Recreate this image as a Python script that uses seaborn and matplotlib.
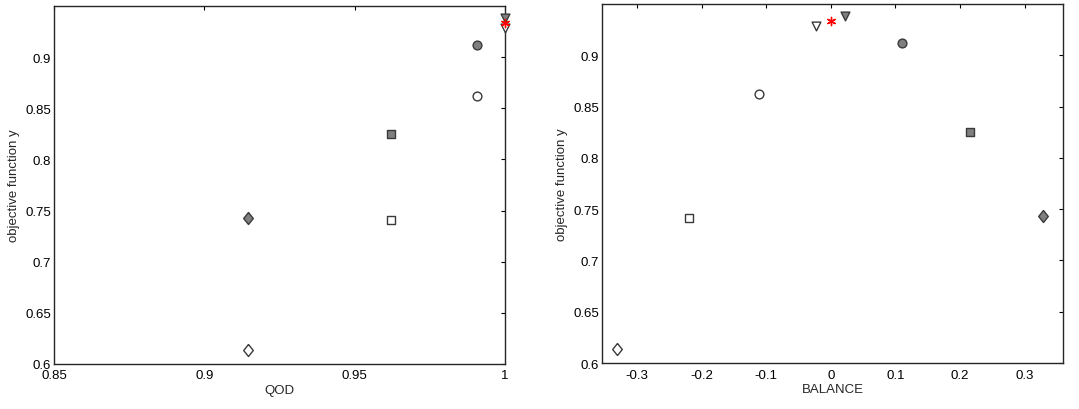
import matplotlib
matplotlib.use("Agg")
import matplotlib.pyplot as plt
import pandas as pd
import seaborn as sns

# values
qod = [0.9145, 0.9145, 0.962, 0.962, 0.9907, 0.9907, 1.0, 1.0, 1.0]
balance = [0.328, -0.331, 0.216, -0.2195, 0.110, -0.111, 0.0216, -0.023, 0.0]
objective = [0.743, 0.614, 0.825, 0.741, 0.912, 0.862, 0.938, 0.928, 0.933]
kind = ["d_fill", "d_open", "s_fill", "s_open", "o_fill", "o_open", "v_fill", "v_open", "star"]

# matlab-like diamond (wider than matplotlib's thin 'd')
diamond = [(0, 1), (0.8, 0), (0, -1), (-0.8, 0), (0, 1)]

marker_of = {
    "d_fill": diamond, "d_open": diamond, "s_fill": "s", "s_open": "s",
    "o_fill": "o", "o_open": "o", "v_fill": "v", "v_open": "v",
    "star": (6, 2, 0),
}
size_of = {k: 40 for k in kind}
size_of["d_fill"] = size_of["d_open"] = 75
size_of["star"] = 35
face_of = {k: ("white" if k.endswith("open") else "#7f7f7f") for k in kind}
face_of["star"] = "red"
edge_of = {k: "#3a3a3a" for k in kind}
edge_of["star"] = "red"

df = pd.DataFrame({"QOD": qod, "BALANCE": balance, "y": objective, "kind": kind})

sns.set_style("white")
plt.rcParams["font.family"] = ["Liberation Sans", "DejaVu Sans"]
plt.rcParams["font.size"] = 9.5

fig = plt.figure(figsize=(10.79, 4.10), dpi=100)
ax1 = fig.add_axes([0.050, 0.110, 0.418, 0.873])
ax2 = fig.add_axes([0.558, 0.112, 0.427, 0.876])


def draw(ax, xcol, xlim, xticks, xticklabels):
    for k, row in df.groupby("kind", sort=False):
        sns.scatterplot(
            data=row, x=xcol, y="y", ax=ax,
            marker=marker_of[k], color=face_of[k], edgecolor=edge_of[k],
            s=size_of[k], linewidth=1.0, clip_on=False, zorder=3,
            legend=False,
        )
    ax.set_xlim(*xlim)
    ax.set_ylim(0.6, 0.95)
    ax.set_xticks(xticks)
    ax.set_xticklabels(xticklabels)
    yt = [0.6, 0.65, 0.7, 0.75, 0.8, 0.85, 0.9]
    ax.set_yticks(yt)
    ax.set_yticklabels(["0.6", "0.65", "0.7", "0.75", "0.8", "0.85", "0.9"])
    ax.tick_params(direction="in", length=3, width=0.8, top=True, right=True,
                   labelsize=9.5, colors="black", pad=2)
    ax.tick_params(axis="x", pad=4)
    for sp in ax.spines.values():
        sp.set_color("#262626")
        sp.set_linewidth(1.0)
    ax.set_xlabel(xcol, fontsize=9.5, labelpad=2)
    ax.set_ylabel("objective function y", fontsize=9.5, labelpad=4)
    ax.grid(False)


draw(ax1, "QOD", (0.85, 1.0), [0.85, 0.9, 0.95, 1.0], ["0.85", "0.9", "0.95", "1"])
draw(ax2, "BALANCE", (-0.354, 0.359), [-0.3, -0.2, -0.1, 0, 0.1, 0.2, 0.3],
     ["-0.3", "-0.2", "-0.1", "0", "0.1", "0.2", "0.3"])

plt.savefig("out.png", dpi=100)
plt.close()
